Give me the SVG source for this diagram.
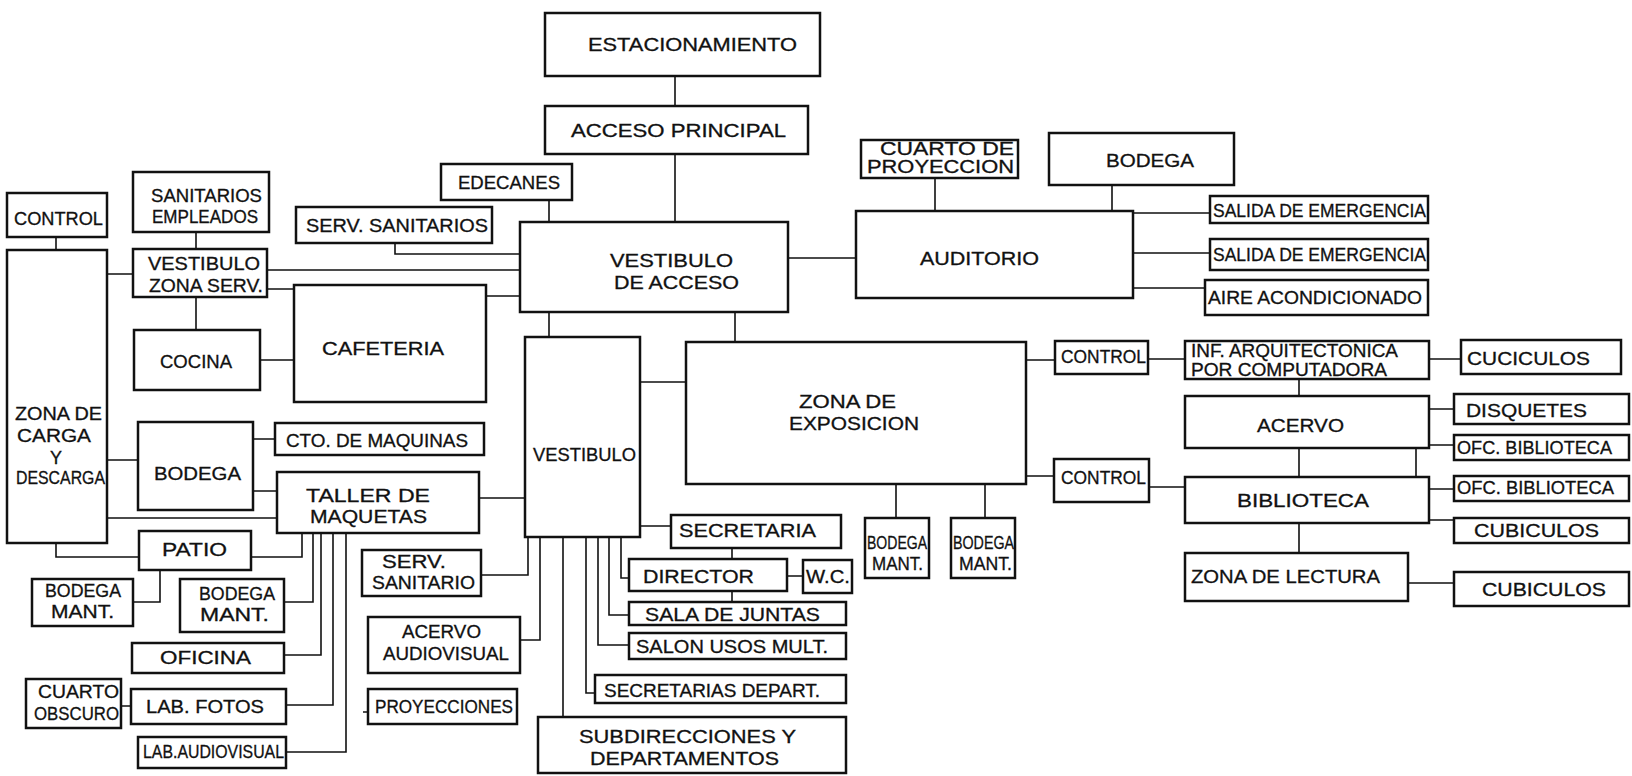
<svg xmlns="http://www.w3.org/2000/svg" width="1632" height="776" viewBox="0 0 1632 776">
<style>
.b{fill:#fff;stroke:#111;stroke-width:2.5}
.t{font-family:"Liberation Sans",Arial,sans-serif;font-size:18px;fill:#111;stroke:#111;stroke-width:0.3}
.c{stroke:#111;stroke-width:1.6;fill:none}
</style>
<rect width="1632" height="776" fill="#fff"/>
<g id="connectors" class="c">
<path d="M675,76V106M675,154V222M549,200V222M395,243V254H520M267,270H520M267,289H294M486,296H520"/>
<path d="M56,237V250M196,232V249M196,297V330M107,274H133M260,360H294M107,460H138M253,439H275M253,491H277M107,518H277M479,498H525"/>
<path d="M56,543V557H139M251,557H302V533M160,570V602H133M313,533V602H284M321,533V655H284M333,533V705H286M346,533V752H286M121,706H131"/>
<path d="M481,575H528V537M520,640H540V537M363,712H368"/>
<path d="M549,312V337M735,312V342M640,382H686M788,258H856M1026,360H1055M1026,476H1054M896,484V518M985,484V518"/>
<path d="M640,526H671M732,548V559M787,576H803M621,537V578H629M732,591V602M609,537V615H629M598,537V645H629M586,537V693H595M563,537V717"/>
<path d="M935,178V211M1112,185V211M1133,213H1210M1133,253H1210M1133,288H1205"/>
<path d="M1148,359H1185M1429,359H1461M1299,379V396M1429,409H1454M1429,445H1454M1299,448V477M1416,448V477M1149,487H1185M1429,489H1454M1429,520H1454M1299,523V553M1408,583H1454"/>
</g>
<g id="estacionamiento"><rect class="b" x="545" y="13" width="275" height="63"/><text class="t" x="588" y="51" textLength="209" lengthAdjust="spacingAndGlyphs">ESTACIONAMIENTO</text></g>
<g id="acceso-principal"><rect class="b" x="545" y="106" width="263" height="48"/><text class="t" x="571" y="137" textLength="215" lengthAdjust="spacingAndGlyphs">ACCESO PRINCIPAL</text></g>
<g id="edecanes"><rect class="b" x="441" y="164" width="131" height="36"/><text class="t" x="458" y="189" textLength="102" lengthAdjust="spacingAndGlyphs">EDECANES</text></g>
<g id="serv-sanitarios"><rect class="b" x="296" y="207" width="196" height="36"/><text class="t" x="306" y="232" textLength="182" lengthAdjust="spacingAndGlyphs">SERV. SANITARIOS</text></g>
<g id="vestibulo-acceso"><rect class="b" x="520" y="222" width="268" height="90"/><text class="t" x="610" y="267" textLength="123" lengthAdjust="spacingAndGlyphs">VESTIBULO</text><text class="t" x="614" y="289" textLength="125" lengthAdjust="spacingAndGlyphs">DE ACCESO</text></g>
<g id="sanitarios-empleados"><rect class="b" x="133" y="172" width="136" height="60"/><text class="t" x="151" y="202" textLength="111" lengthAdjust="spacingAndGlyphs">SANITARIOS</text><text class="t" x="152" y="223" textLength="106" lengthAdjust="spacingAndGlyphs">EMPLEADOS</text></g>
<g id="control-carga"><rect class="b" x="7" y="193" width="100" height="44"/><text class="t" x="14" y="225" textLength="89" lengthAdjust="spacingAndGlyphs">CONTROL</text></g>
<g id="vestibulo-zona-serv"><rect class="b" x="133" y="249" width="134" height="48"/><text class="t" x="148" y="270" textLength="112" lengthAdjust="spacingAndGlyphs">VESTIBULO</text><text class="t" x="149" y="292" textLength="114" lengthAdjust="spacingAndGlyphs">ZONA SERV.</text></g>
<g id="zona-carga"><rect class="b" x="7" y="250" width="100" height="293"/><text class="t" x="15" y="420" textLength="87" lengthAdjust="spacingAndGlyphs">ZONA DE</text><text class="t" x="17" y="442" textLength="74" lengthAdjust="spacingAndGlyphs">CARGA</text><text class="t" x="50" y="464" textLength="12" lengthAdjust="spacingAndGlyphs">Y</text><text class="t" x="16" y="484" textLength="89" lengthAdjust="spacingAndGlyphs">DESCARGA</text></g>
<g id="cocina"><rect class="b" x="134" y="330" width="126" height="60"/><text class="t" x="160" y="368" textLength="72" lengthAdjust="spacingAndGlyphs">COCINA</text></g>
<g id="cafeteria"><rect class="b" x="294" y="285" width="192" height="117"/><text class="t" x="322" y="355" textLength="122" lengthAdjust="spacingAndGlyphs">CAFETERIA</text></g>
<g id="bodega-carga"><rect class="b" x="138" y="422" width="115" height="88"/><text class="t" x="154" y="480" textLength="87" lengthAdjust="spacingAndGlyphs">BODEGA</text></g>
<g id="cto-maquinas"><rect class="b" x="275" y="423" width="209" height="32"/><text class="t" x="286" y="447" textLength="182" lengthAdjust="spacingAndGlyphs">CTO. DE MAQUINAS</text></g>
<g id="taller-maquetas"><rect class="b" x="277" y="472" width="202" height="61"/><text class="t" x="306" y="502" textLength="124" lengthAdjust="spacingAndGlyphs">TALLER DE</text><text class="t" x="310" y="523" textLength="117" lengthAdjust="spacingAndGlyphs">MAQUETAS</text></g>
<g id="patio"><rect class="b" x="139" y="531" width="112" height="39"/><text class="t" x="162" y="556" textLength="65" lengthAdjust="spacingAndGlyphs">PATIO</text></g>
<g id="bodega-mant-1"><rect class="b" x="32" y="579" width="101" height="47"/><text class="t" x="45" y="597" textLength="76" lengthAdjust="spacingAndGlyphs">BODEGA</text><text class="t" x="51" y="618" textLength="63" lengthAdjust="spacingAndGlyphs">MANT.</text></g>
<g id="bodega-mant-2"><rect class="b" x="180" y="579" width="104" height="53"/><text class="t" x="199" y="600" textLength="76" lengthAdjust="spacingAndGlyphs">BODEGA</text><text class="t" x="200" y="621" textLength="69" lengthAdjust="spacingAndGlyphs">MANT.</text></g>
<g id="oficina"><rect class="b" x="132" y="643" width="152" height="30"/><text class="t" x="160" y="664" textLength="91" lengthAdjust="spacingAndGlyphs">OFICINA</text></g>
<g id="cuarto-obscuro"><rect class="b" x="26" y="679" width="95" height="49"/><text class="t" x="38" y="698" textLength="81" lengthAdjust="spacingAndGlyphs">CUARTO</text><text class="t" x="34" y="720" textLength="85" lengthAdjust="spacingAndGlyphs">OBSCURO</text></g>
<g id="lab-fotos"><rect class="b" x="131" y="689" width="155" height="35"/><text class="t" x="146" y="713" textLength="118" lengthAdjust="spacingAndGlyphs">LAB. FOTOS</text></g>
<g id="lab-audiovisual"><rect class="b" x="138" y="737" width="148" height="31"/><text class="t" x="143" y="758" textLength="141" lengthAdjust="spacingAndGlyphs">LAB.AUDIOVISUAL</text></g>
<g id="serv-sanitario"><rect class="b" x="362" y="550" width="119" height="46"/><text class="t" x="382" y="568" textLength="64" lengthAdjust="spacingAndGlyphs">SERV.</text><text class="t" x="372" y="589" textLength="103" lengthAdjust="spacingAndGlyphs">SANITARIO</text></g>
<g id="acervo-audiovisual"><rect class="b" x="368" y="617" width="152" height="56"/><text class="t" x="402" y="638" textLength="79" lengthAdjust="spacingAndGlyphs">ACERVO</text><text class="t" x="383" y="660" textLength="126" lengthAdjust="spacingAndGlyphs">AUDIOVISUAL</text></g>
<g id="proyecciones"><rect class="b" x="368" y="689" width="149" height="35"/><text class="t" x="375" y="713" textLength="138" lengthAdjust="spacingAndGlyphs">PROYECCIONES</text></g>
<g id="vestibulo"><rect class="b" x="525" y="337" width="115" height="200"/><text class="t" x="533" y="461" textLength="103" lengthAdjust="spacingAndGlyphs">VESTIBULO</text></g>
<g id="zona-exposicion"><rect class="b" x="686" y="342" width="340" height="142"/><text class="t" x="799" y="408" textLength="97" lengthAdjust="spacingAndGlyphs">ZONA DE</text><text class="t" x="789" y="430" textLength="130" lengthAdjust="spacingAndGlyphs">EXPOSICION</text></g>
<g id="secretaria"><rect class="b" x="671" y="515" width="170" height="33"/><text class="t" x="679" y="537" textLength="137" lengthAdjust="spacingAndGlyphs">SECRETARIA</text></g>
<g id="director"><rect class="b" x="629" y="559" width="158" height="32"/><text class="t" x="643" y="583" textLength="111" lengthAdjust="spacingAndGlyphs">DIRECTOR</text></g>
<g id="wc"><rect class="b" x="803" y="560" width="49" height="33"/><text class="t" x="806" y="583" textLength="44" lengthAdjust="spacingAndGlyphs">W.C.</text></g>
<g id="sala-juntas"><rect class="b" x="629" y="602" width="217" height="23"/><text class="t" x="645" y="621" textLength="175" lengthAdjust="spacingAndGlyphs">SALA DE JUNTAS</text></g>
<g id="salon-usos"><rect class="b" x="629" y="633" width="217" height="26"/><text class="t" x="636" y="653" textLength="192" lengthAdjust="spacingAndGlyphs">SALON USOS MULT.</text></g>
<g id="secretarias-depart"><rect class="b" x="595" y="675" width="251" height="28"/><text class="t" x="604" y="697" textLength="216" lengthAdjust="spacingAndGlyphs">SECRETARIAS DEPART.</text></g>
<g id="subdirecciones"><rect class="b" x="538" y="717" width="308" height="56"/><text class="t" x="579" y="743" textLength="217" lengthAdjust="spacingAndGlyphs">SUBDIRECCIONES Y</text><text class="t" x="590" y="765" textLength="189" lengthAdjust="spacingAndGlyphs">DEPARTAMENTOS</text></g>
<g id="bodega-mant-3"><rect class="b" x="865" y="518" width="64" height="60"/><text class="t" x="867" y="549" textLength="60" lengthAdjust="spacingAndGlyphs">BODEGA</text><text class="t" x="872" y="570" textLength="51" lengthAdjust="spacingAndGlyphs">MANT.</text></g>
<g id="bodega-mant-4"><rect class="b" x="951" y="518" width="64" height="60"/><text class="t" x="953" y="549" textLength="61" lengthAdjust="spacingAndGlyphs">BODEGA</text><text class="t" x="959" y="570" textLength="53" lengthAdjust="spacingAndGlyphs">MANT.</text></g>
<g id="cuarto-proyeccion"><rect class="b" x="861" y="140" width="157" height="38"/><text class="t" x="880" y="155" textLength="134" lengthAdjust="spacingAndGlyphs">CUARTO DE</text><text class="t" x="867" y="173" textLength="147" lengthAdjust="spacingAndGlyphs">PROYECCION</text></g>
<g id="bodega-auditorio"><rect class="b" x="1049" y="133" width="185" height="52"/><text class="t" x="1106" y="167" textLength="88" lengthAdjust="spacingAndGlyphs">BODEGA</text></g>
<g id="auditorio"><rect class="b" x="856" y="211" width="277" height="87"/><text class="t" x="920" y="265" textLength="119" lengthAdjust="spacingAndGlyphs">AUDITORIO</text></g>
<g id="salida-emergencia-1"><rect class="b" x="1210" y="196" width="218" height="27"/><text class="t" x="1213" y="217" textLength="213" lengthAdjust="spacingAndGlyphs">SALIDA DE EMERGENCIA</text></g>
<g id="salida-emergencia-2"><rect class="b" x="1210" y="239" width="218" height="31"/><text class="t" x="1213" y="261" textLength="213" lengthAdjust="spacingAndGlyphs">SALIDA DE EMERGENCIA</text></g>
<g id="aire-acondicionado"><rect class="b" x="1205" y="280" width="223" height="35"/><text class="t" x="1208" y="304" textLength="214" lengthAdjust="spacingAndGlyphs">AIRE ACONDICIONADO</text></g>
<g id="control-1"><rect class="b" x="1055" y="341" width="93" height="33"/><text class="t" x="1061" y="363" textLength="85" lengthAdjust="spacingAndGlyphs">CONTROL</text></g>
<g id="inf-arquitectonica"><rect class="b" x="1185" y="341" width="244" height="38"/><text class="t" x="1191" y="357" textLength="207" lengthAdjust="spacingAndGlyphs">INF. ARQUITECTONICA</text><text class="t" x="1191" y="376" textLength="196" lengthAdjust="spacingAndGlyphs">POR COMPUTADORA</text></g>
<g id="cuciculos"><rect class="b" x="1461" y="340" width="160" height="34"/><text class="t" x="1467" y="365" textLength="123" lengthAdjust="spacingAndGlyphs">CUCICULOS</text></g>
<g id="acervo"><rect class="b" x="1185" y="396" width="244" height="52"/><text class="t" x="1257" y="432" textLength="87" lengthAdjust="spacingAndGlyphs">ACERVO</text></g>
<g id="disquetes"><rect class="b" x="1454" y="394" width="175" height="30"/><text class="t" x="1466" y="417" textLength="121" lengthAdjust="spacingAndGlyphs">DISQUETES</text></g>
<g id="ofc-biblioteca-1"><rect class="b" x="1454" y="435" width="175" height="25"/><text class="t" x="1457" y="454" textLength="155" lengthAdjust="spacingAndGlyphs">OFC. BIBLIOTECA</text></g>
<g id="control-2"><rect class="b" x="1054" y="459" width="95" height="43"/><text class="t" x="1061" y="484" textLength="85" lengthAdjust="spacingAndGlyphs">CONTROL</text></g>
<g id="biblioteca"><rect class="b" x="1185" y="477" width="244" height="46"/><text class="t" x="1237" y="507" textLength="132" lengthAdjust="spacingAndGlyphs">BIBLIOTECA</text></g>
<g id="ofc-biblioteca-2"><rect class="b" x="1454" y="476" width="175" height="25"/><text class="t" x="1457" y="494" textLength="157" lengthAdjust="spacingAndGlyphs">OFC. BIBLIOTECA</text></g>
<g id="cubiculos-1"><rect class="b" x="1454" y="518" width="175" height="25"/><text class="t" x="1474" y="537" textLength="125" lengthAdjust="spacingAndGlyphs">CUBICULOS</text></g>
<g id="zona-lectura"><rect class="b" x="1185" y="553" width="223" height="48"/><text class="t" x="1191" y="583" textLength="189" lengthAdjust="spacingAndGlyphs">ZONA DE LECTURA</text></g>
<g id="cubiculos-2"><rect class="b" x="1454" y="572" width="175" height="34"/><text class="t" x="1482" y="596" textLength="124" lengthAdjust="spacingAndGlyphs">CUBICULOS</text></g>
</svg>
